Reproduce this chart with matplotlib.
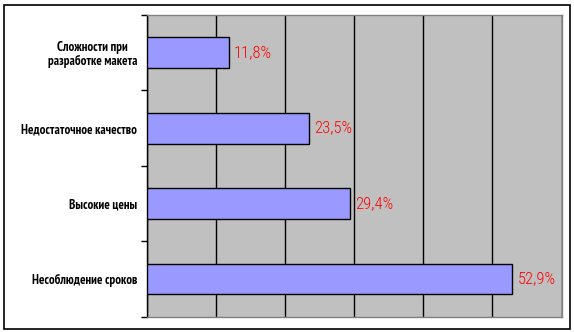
import matplotlib
matplotlib.use("Agg")
import matplotlib.pyplot as plt
from matplotlib.patches import Rectangle

categories = ["Сложности при\nразработке макета", "Недостаточное качество",
              "Высокие цены", "Несоблюдение сроков"]
values = [11.8, 23.5, 29.4, 52.9]
value_labels = ["11,8%", "23,5%", "29,4%", "52,9%"]
xticks = [0, 10, 20, 30, 40, 50, 60]

CAT_FONT = ["PT Sans Narrow", "Roboto Condensed", "Liberation Sans", "DejaVu Sans"]
VAL_FONT = ["Roboto Condensed", "PT Sans Narrow", "Liberation Sans", "DejaVu Sans"]

W, H = 574, 332
fig = plt.figure(figsize=(W / 100, H / 100), dpi=100)
fig.patch.set_facecolor("white")

ax = fig.add_axes([147 / W, (H - 316.7) / H, (561.5 - 147) / W, (316.7 - 15) / H])
ax.set_facecolor("#C0C0C0")

pos = list(range(len(categories)))
ax.barh(pos, values, height=0.41, color="#9999FF", edgecolor="black", linewidth=1.0, zorder=3)

ax.set_xlim(0, 60)
ax.set_ylim(3.5, -0.5)
ax.set_xticks(xticks)
ax.tick_params(axis="x", length=0, labelbottom=False)
ax.xaxis.grid(True, color="black", linewidth=1.0, zorder=1)
ax.set_axisbelow(True)

ax.set_yticks([p - 0.5 for p in pos] + [pos[-1] + 0.5])
ax.set_yticklabels([])
ax.tick_params(axis="y", which="major", length=4, width=1.0, color="black", direction="out")
ax.set_yticks(pos, minor=True)
ax.set_yticklabels(categories, minor=True,
                   fontdict={"family": CAT_FONT, "weight": "bold", "size": 9.3})
ax.tick_params(axis="y", which="minor", length=0, pad=7)
for lbl in ax.get_yticklabels(minor=True):
    lbl.set_multialignment("center")
    lbl.set_linespacing(1.05)

for s in ["top", "right", "bottom"]:
    ax.spines[s].set_color("#808080")
    ax.spines[s].set_linewidth(1.0)
ax.spines["left"].set_color("black")
ax.spines["left"].set_linewidth(1.0)

for p, v, t in zip(pos, values, value_labels):
    ax.annotate(t, xy=(v, p), xytext=(3.5, 0), textcoords="offset points",
                ha="left", va="center", color="red", fontsize=12, fontweight=300,
                family=VAL_FONT, zorder=4)

fig.patches.append(Rectangle((4 / W, (H - 329) / H), 566 / W, 324 / H,
                             transform=fig.transFigure, fill=False,
                             edgecolor="black", linewidth=1.2))

fig.savefig("out.png", dpi=100)
